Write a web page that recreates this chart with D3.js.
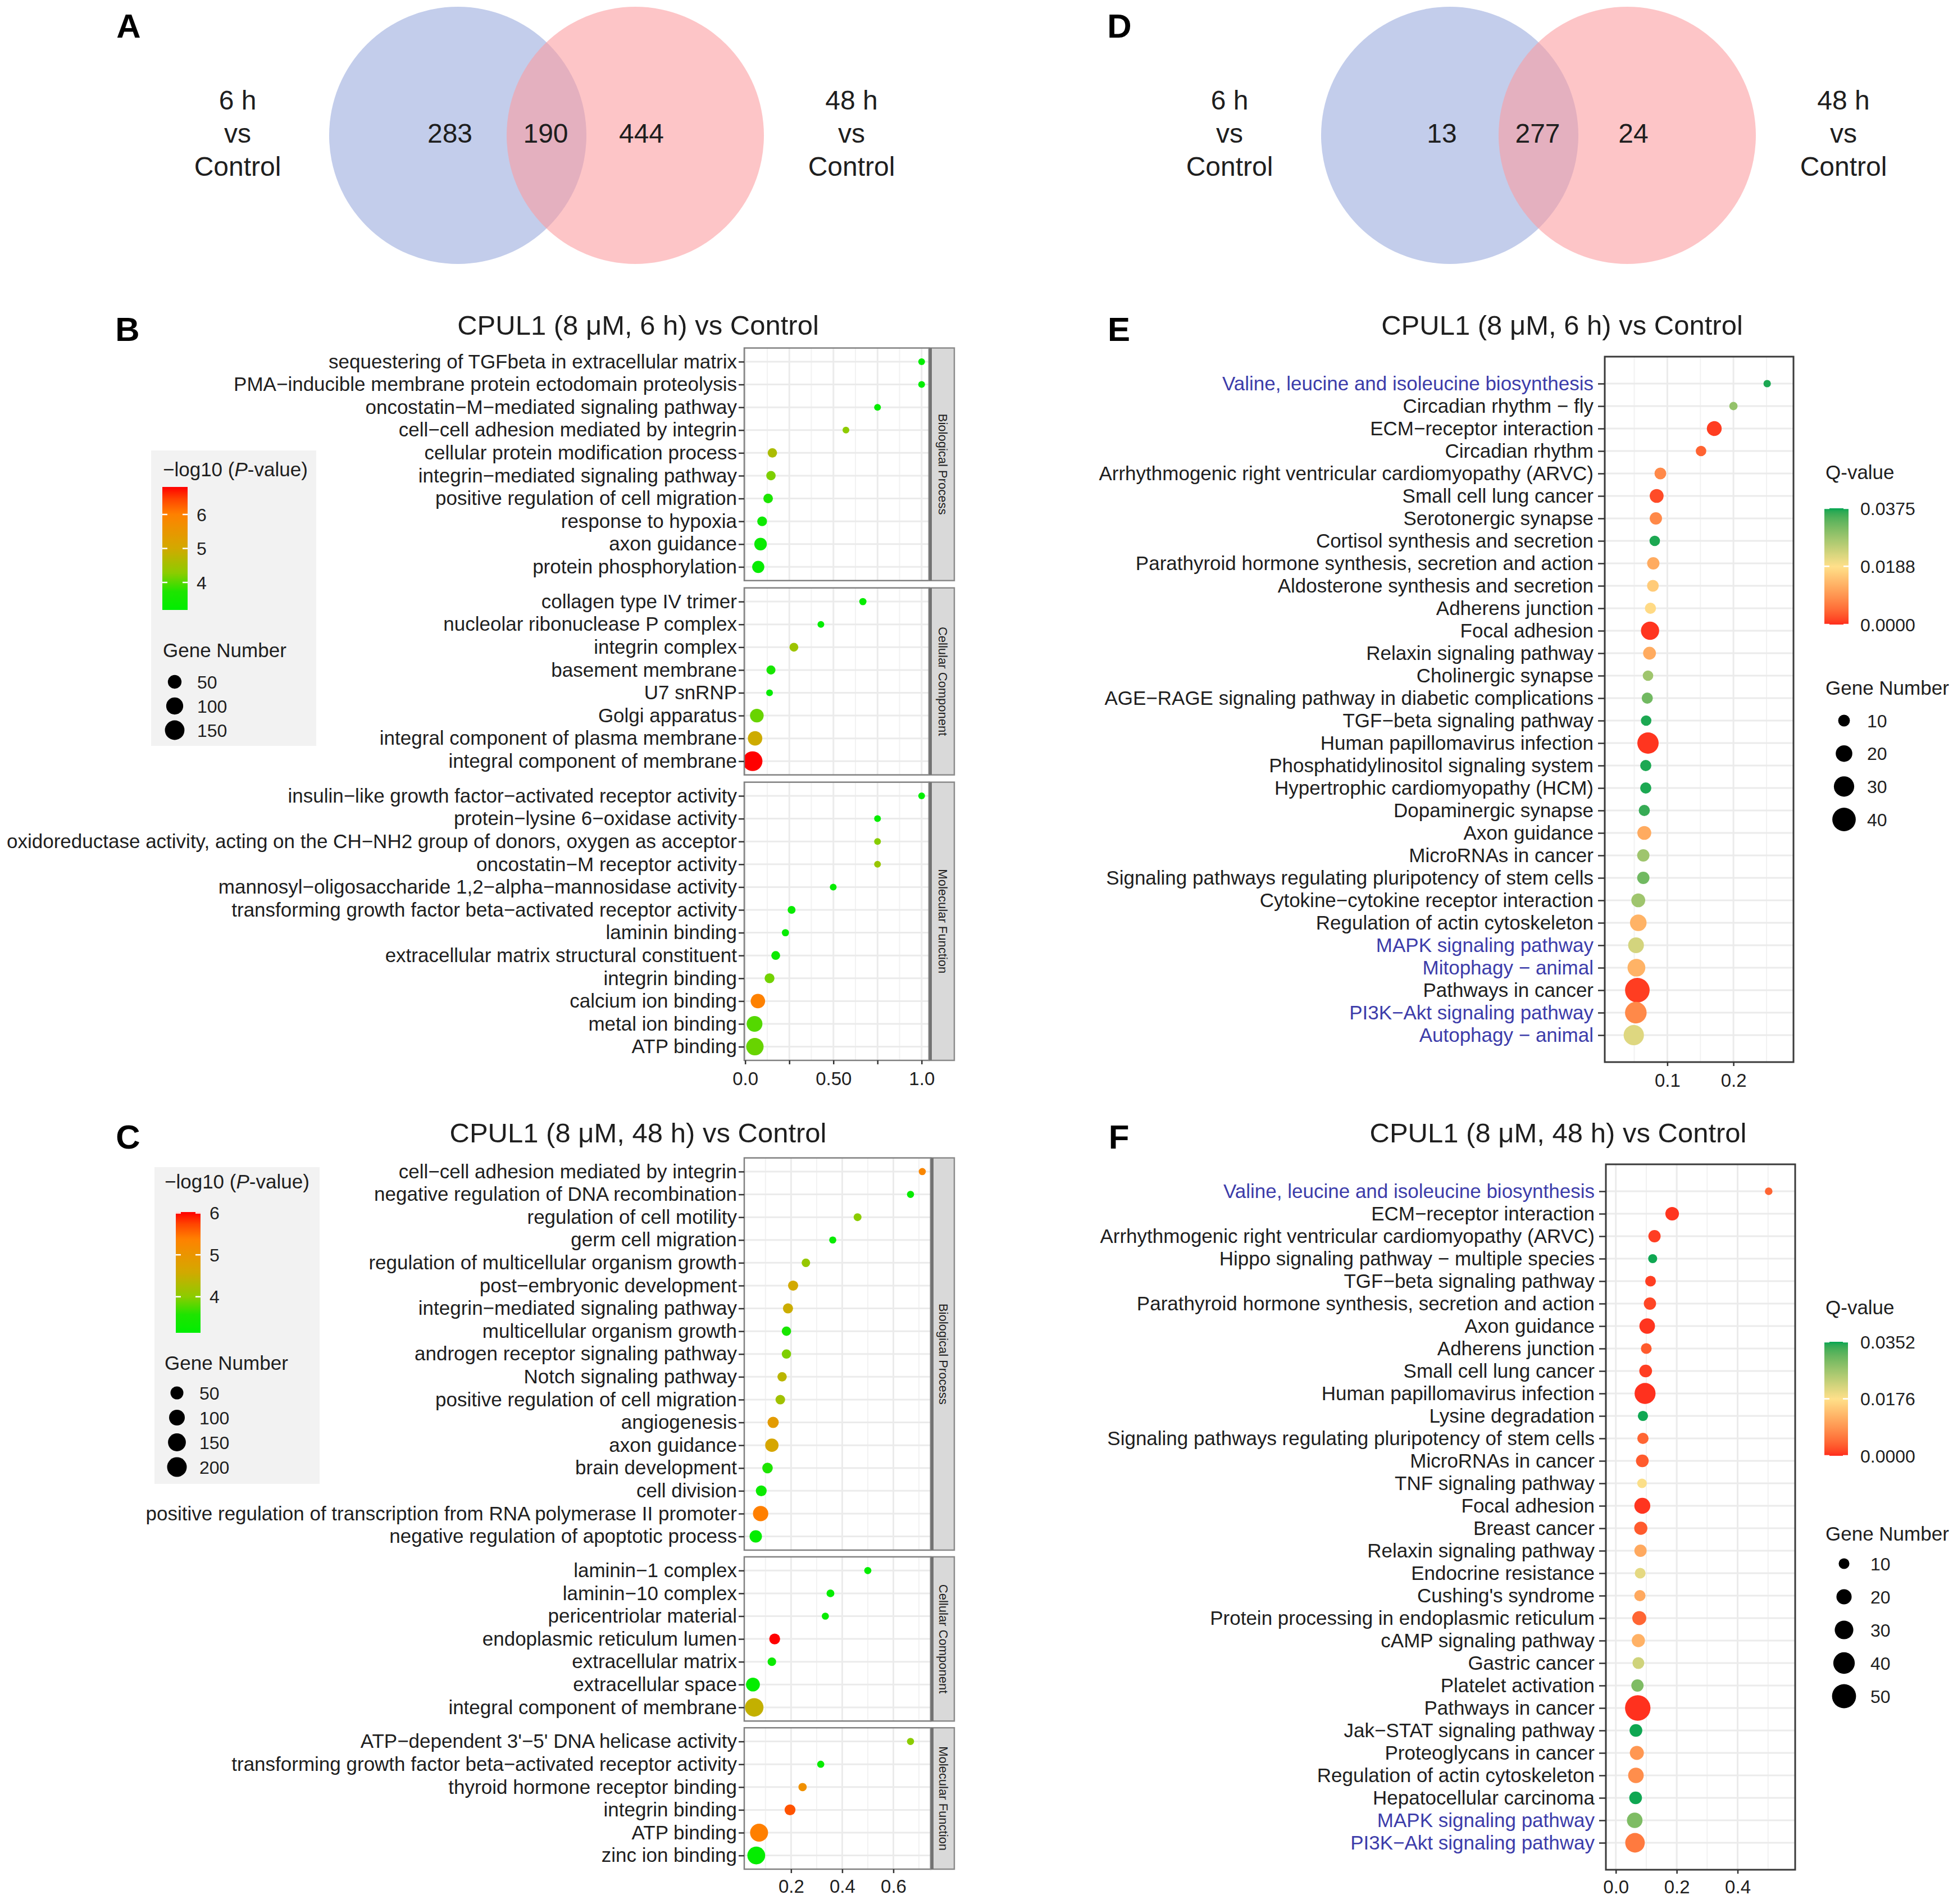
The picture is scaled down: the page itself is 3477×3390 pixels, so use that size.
<!DOCTYPE html>
<html><head><meta charset="utf-8">
<script src="https://cdn.jsdelivr.net/npm/d3@7/dist/d3.min.js"></script>
<style>html,body{margin:0;padding:0;background:#fff}</style>
</head><body>
<svg id="fig" width="3477" height="3390" xmlns="http://www.w3.org/2000/svg"></svg>
<script>
// ================= DATA =================
const vennA = [283, 190, 444];
const vennD = [13, 277, 24];
const vennLeft = ["6 h", "vs", "Control"];
const vennRight = ["48 h", "vs", "Control"];

const title6h = "CPUL1 (8 μM, 6 h) vs Control";
const title48h = "CPUL1 (8 μM, 48 h) vs Control";
const goFacets = ["Biological Process", "Cellular Component", "Molecular Function"];

// ---- Panel B (GO, 6 h) ----
const bBP_terms = ["sequestering of TGFbeta in extracellular matrix","PMA−inducible membrane protein ectodomain proteolysis","oncostatin−M−mediated signaling pathway","cell−cell adhesion mediated by integrin","cellular protein modification process","integrin−mediated signaling pathway","positive regulation of cell migration","response to hypoxia","axon guidance","protein phosphorylation"];
const bBP_ratio = [1.0, 1.0, 0.75, 0.571, 0.154, 0.146, 0.13, 0.096, 0.087, 0.074];
const bBP_count = [1, 1, 1, 1, 11, 11, 12, 13, 37, 33];
const bBP_logp  = [3.25, 3.25, 3.3, 4.3, 4.6, 4.2, 3.7, 3.45, 3.35, 3.3];

const bCC_terms = ["collagen type IV trimer","nucleolar ribonuclease P complex","integrin complex","basement membrane","U7 snRNP","Golgi apparatus","integral component of plasma membrane","integral component of membrane"];
const bCC_ratio = [0.667, 0.429, 0.276, 0.146, 0.138, 0.066, 0.056, 0.042];
const bCC_count = [2, 1, 8, 9, 1, 50, 60, 152];
const bCC_logp  = [3.3, 3.25, 4.45, 3.6, 3.3, 4.1, 4.95, 6.81];

const bMF_terms = ["insulin−like growth factor−activated receptor activity","protein−lysine 6−oxidase activity","oxidoreductase activity, acting on the CH−NH2 group of donors, oxygen as acceptor","oncostatin−M receptor activity","mannosyl−oligosaccharide 1,2−alpha−mannosidase activity","transforming growth factor beta−activated receptor activity","laminin binding","extracellular matrix structural constituent","integrin binding","calcium ion binding","metal ion binding","ATP binding"];
const bMF_ratio = [1.0, 0.75, 0.75, 0.75, 0.499, 0.263, 0.228, 0.173, 0.138, 0.072, 0.053, 0.055];
const bMF_count = [1, 1, 1, 1, 1, 4, 2, 8, 14, 60, 79, 107];
const bMF_logp  = [3.2, 3.3, 4.25, 4.4, 3.3, 3.35, 3.3, 3.4, 4.15, 6.0, 4.0, 4.1];

const bXTicks = [0, 0.25, 0.5, 0.75, 1.0];
const bXTickLabels = ["0.0", "", "0.50", "", "1.0"];
const bPTicks = [4, 5, 6];
const bSizeBreaks = [50, 100, 150];

// ---- Panel C (GO, 48 h) ----
const cBP_terms = ["cell−cell adhesion mediated by integrin","negative regulation of DNA recombination","regulation of cell motility","germ cell migration","regulation of multicellular organism growth","post−embryonic development","integrin−mediated signaling pathway","multicellular organism growth","androgen receptor signaling pathway","Notch signaling pathway","positive regulation of cell migration","angiogenesis","axon guidance","brain development","cell division","positive regulation of transcription from RNA polymerase II promoter","negative regulation of apoptotic process"];
const cBP_ratio = [0.713, 0.667, 0.46, 0.363, 0.258, 0.208, 0.188, 0.182, 0.182, 0.165, 0.158, 0.130, 0.125, 0.108, 0.0835, 0.081, 0.062];
const cBP_count = [1, 1, 3, 1, 6, 17, 17, 11, 11, 11, 13, 28, 56, 21, 24, 92, 42];
const cBP_logp  = [5.27, 3.25, 4.0, 3.25, 4.09, 4.58, 4.52, 3.49, 3.95, 4.38, 4.18, 4.87, 4.64, 3.57, 3.3, 5.39, 3.2];

const cCC_terms = ["laminin−1 complex","laminin−10 complex","pericentriolar material","endoplasmic reticulum lumen","extracellular matrix","extracellular space","integral component of membrane"];
const cCC_ratio = [0.5, 0.354, 0.334, 0.136, 0.125, 0.051, 0.056];
const cCC_count = [1, 3, 1, 24, 6, 65, 168];
const cCC_logp  = [3.2, 3.2, 3.25, 6.02, 3.3, 3.2, 4.46];

const cMF_terms = ["ATP−dependent 3'−5' DNA helicase activity","transforming growth factor beta−activated receptor activity","thyroid hormone receptor binding","integrin binding","ATP binding","zinc ion binding"];
const cMF_ratio = [0.667, 0.316, 0.245, 0.196, 0.075, 0.064];
const cMF_count = [1, 1, 5, 24, 153, 149];
const cMF_logp  = [4.0, 3.25, 5.1, 5.65, 5.39, 3.2];

const cXTicks = [0.2, 0.4, 0.6];
const cXTickLabels = ["0.2", "0.4", "0.6"];
const cPTicks = [4, 5, 6];
const cSizeBreaks = [50, 100, 150, 200];

// ---- Panel E (KEGG, 6 h) ----
const e_terms = ["Valine, leucine and isoleucine biosynthesis","Circadian rhythm − fly","ECM−receptor interaction","Circadian rhythm","Arrhythmogenic right ventricular cardiomyopathy (ARVC)","Small cell lung cancer","Serotonergic synapse","Cortisol synthesis and secretion","Parathyroid hormone synthesis, secretion and action","Aldosterone synthesis and secretion","Adherens junction","Focal adhesion","Relaxin signaling pathway","Cholinergic synapse","AGE−RAGE signaling pathway in diabetic complications","TGF−beta signaling pathway","Human papillomavirus infection","Phosphatidylinositol signaling system","Hypertrophic cardiomyopathy (HCM)","Dopaminergic synapse","Axon guidance","MicroRNAs in cancer","Signaling pathways regulating pluripotency of stem cells","Cytokine−cytokine receptor interaction","Regulation of actin cytoskeleton","MAPK signaling pathway","Mitophagy − animal","Pathways in cancer","PI3K−Akt signaling pathway","Autophagy − animal"];
const e_ratio = [0.251, 0.200, 0.171, 0.151, 0.0895, 0.0839, 0.0827, 0.081, 0.0788, 0.0782, 0.0745, 0.0739, 0.0731, 0.0708, 0.0697, 0.068, 0.0708, 0.0674, 0.0674, 0.0652, 0.0652, 0.0637, 0.0637, 0.0561, 0.0561, 0.0527, 0.0533, 0.0547, 0.0524, 0.0493];
const e_count = [4, 5, 16, 8, 10, 14, 11, 8, 11, 10, 9, 24, 12, 8, 9, 8, 33, 9, 9, 9, 14, 11, 11, 14, 20, 18, 23, 44, 34, 30];
const e_q     = [0.037, 0.029, 0.001, 0.004, 0.008, 0.002, 0.008, 0.037, 0.012, 0.016, 0.018, 0.0005, 0.012, 0.028, 0.032, 0.037, 0.0005, 0.037, 0.037, 0.036, 0.012, 0.028, 0.032, 0.028, 0.013, 0.023, 0.013, 0.001, 0.008, 0.022];
const e_highlight = ["Valine, leucine and isoleucine biosynthesis","MAPK signaling pathway","Mitophagy − animal","PI3K−Akt signaling pathway","Autophagy − animal"];
const eXTicks = [0.1, 0.2];
const eXMinor = [0.05, 0.15, 0.25];
const eQTicks = [0, 0.0188, 0.0375];
const eSizeBreaks = [10, 20, 30, 40];

// ---- Panel F (KEGG, 48 h) ----
const f_terms = ["Valine, leucine and isoleucine biosynthesis","ECM−receptor interaction","Arrhythmogenic right ventricular cardiomyopathy (ARVC)","Hippo signaling pathway − multiple species","TGF−beta signaling pathway","Parathyroid hormone synthesis, secretion and action","Axon guidance","Adherens junction","Small cell lung cancer","Human papillomavirus infection","Lysine degradation","Signaling pathways regulating pluripotency of stem cells","MicroRNAs in cancer","TNF signaling pathway","Focal adhesion","Breast cancer","Relaxin signaling pathway","Endocrine resistance","Cushing's syndrome","Protein processing in endoplasmic reticulum","cAMP signaling pathway","Gastric cancer","Platelet activation","Pathways in cancer","Jak−STAT signaling pathway","Proteoglycans in cancer","Regulation of actin cytoskeleton","Hepatocellular carcinoma","MAPK signaling pathway","PI3K−Akt signaling pathway"];
const f_ratio = [0.502, 0.185, 0.127, 0.121, 0.114, 0.112, 0.103, 0.100, 0.098, 0.096, 0.089, 0.089, 0.087, 0.086, 0.087, 0.082, 0.081, 0.080, 0.079, 0.077, 0.074, 0.074, 0.071, 0.072, 0.066, 0.069, 0.066, 0.065, 0.062, 0.063];
const f_count = [5, 16, 13, 7, 10, 13, 21, 10, 14, 38, 9, 11, 14, 8, 22, 15, 13, 10, 11, 17, 15, 12, 13, 56, 14, 17, 21, 14, 21, 33];
const f_q     = [0.004, 0.0005, 0.001, 0.035, 0.001, 0.0015, 0.0005, 0.003, 0.001, 0.0003, 0.035, 0.004, 0.003, 0.018, 0.0005, 0.003, 0.011, 0.020, 0.011, 0.004, 0.012, 0.022, 0.029, 0.0003, 0.035, 0.009, 0.008, 0.035, 0.029, 0.006];
const f_highlight = ["Valine, leucine and isoleucine biosynthesis","MAPK signaling pathway","PI3K−Akt signaling pathway"];
const fXTicks = [0.0, 0.2, 0.4];
const fXMinor = [0.1, 0.3, 0.5];
const fQTicks = [0, 0.0176, 0.0352];
const fSizeBreaks = [10, 20, 30, 40, 50];

// palettes
const pStops  = [0, 0.15, 0.3, 0.5, 0.64, 0.78, 0.9, 1];
const pColors = ["#00ee00", "#1ee400", "#8ccc00", "#d2a900", "#ea9600", "#ff8000", "#ff4500", "#ff0000"];
const qColors = ["#ff2b1c", "#ffe08a", "#00a651"];

// ================= DRAWING =================
const svg = d3.select("#fig");
const defs = svg.append("defs");
const FONT = "'Liberation Sans', Arial, Helvetica, sans-serif";
const INK = "#1e1e1e";
const BLUE = "#3c3caa";
let uid = 0;

function txt(g, x, y, s, size, o = {}) {
  const t = g.append("text").attr("x", x).attr("y", y).attr("font-size", size)
    .attr("font-family", FONT).attr("fill", o.fill || INK)
    .attr("text-anchor", o.anchor || "start");
  if (o.weight) t.attr("font-weight", o.weight);
  if (o.dy) t.attr("dy", o.dy);
  t.text(s);
  return t;
}

function pScale(dom) {
  return d3.scaleLinear().domain(pStops.map(t => dom[0] + t * (dom[1] - dom[0]))).range(pColors).clamp(true);
}
function qScale(max) {
  return d3.scaleLinear().domain([0, max / 2, max]).range(qColors).interpolate(d3.interpolateLab).clamp(true);
}

// ---- Venn ----
function drawVenn(counts, dx) {
  const g = svg.append("g").attr("transform", `translate(${dx},0)`);
  const cy = 241, r = 229;
  const cx = d3.scaleLinear().domain([0, 1]).range([815, 1131]);
  g.append("circle").attr("cx", cx(0)).attr("cy", cy).attr("r", r).attr("fill", "#c3cdeb");
  g.append("circle").attr("cx", cx(1)).attr("cy", cy).attr("r", r).attr("fill", "rgb(252,156,159)").attr("fill-opacity", 0.583);
  const nx = d3.scalePoint().domain(d3.range(counts.length)).range([801, 1142]);
  counts.forEach((c, i) => txt(g, nx(i), 254, String(c), 48, { anchor: "middle" }));
  const ly = d3.scalePoint().domain(d3.range(3)).range([195, 313]);
  vennLeft.forEach((s, i) => txt(g, 423, ly(i), s, 48, { anchor: "middle" }));
  vennRight.forEach((s, i) => txt(g, 1516, ly(i), s, 48, { anchor: "middle" }));
}

// ---- GO faceted dot plot ----
function drawGO(cfg) {
  const g = svg.append("g");
  const x = d3.scaleLinear().domain(cfg.xDomain).range([cfg.left, cfg.right]);
  const color = pScale(cfg.cDomain);
  const size = d3.scaleSqrt().domain(cfg.sDomain).range(cfg.sRange);
  let top = cfg.top, bottom = 0;
  cfg.facets.forEach((f, fi) => {
    const h = (f.terms.length + 0.2) * cfg.step;
    bottom = top + h;
    const y = d3.scalePoint().domain(f.terms).range([top, bottom]).padding(0.6);
    g.append("rect").attr("x", cfg.left).attr("y", top).attr("width", cfg.right - cfg.left).attr("height", h).attr("fill", "#fff");
    cfg.minor.forEach(v => g.append("line").attr("x1", x(v)).attr("x2", x(v)).attr("y1", top).attr("y2", bottom).attr("stroke", "#f2f2f2").attr("stroke-width", 2));
    cfg.ticks.forEach(v => g.append("line").attr("x1", x(v)).attr("x2", x(v)).attr("y1", top).attr("y2", bottom).attr("stroke", "#ebebeb").attr("stroke-width", 3));
    f.terms.forEach(t => g.append("line").attr("x1", cfg.left).attr("x2", cfg.right).attr("y1", y(t)).attr("y2", y(t)).attr("stroke", "#ebebeb").attr("stroke-width", 3));
    const cid = "clip" + (uid++);
    defs.append("clipPath").attr("id", cid).append("rect").attr("x", cfg.left).attr("y", top).attr("width", cfg.right - cfg.left).attr("height", h);
    g.append("g").attr("clip-path", `url(#${cid})`).selectAll("circle").data(d3.range(f.terms.length)).join("circle")
      .attr("cx", i => x(f.ratio[i])).attr("cy", i => y(f.terms[i]))
      .attr("r", i => size(f.count[i]) / 2).attr("fill", i => color(f.logp[i]));
    g.append("rect").attr("x", cfg.left).attr("y", top).attr("width", cfg.right - cfg.left).attr("height", h)
      .attr("fill", "none").attr("stroke", "#808080").attr("stroke-width", 2.5);
    // strip
    g.append("rect").attr("x", cfg.right).attr("y", top).attr("width", cfg.stripW).attr("height", h)
      .attr("fill", "#d9d9d9").attr("stroke", "#8a8a8a").attr("stroke-width", 2.5);
    g.append("rect").attr("x", cfg.right).attr("y", top).attr("width", 5).attr("height", h).attr("fill", "#737373");
    g.append("text").attr("transform", `translate(${cfg.right + cfg.stripW / 2 + 2},${(top + bottom) / 2}) rotate(90)`)
      .attr("text-anchor", "middle").attr("dy", "0.35em").attr("font-size", 22).attr("font-family", FONT).attr("fill", INK)
      .text(cfg.facetNames[fi]);
    // y axis
    const ax = g.append("g").attr("transform", `translate(${cfg.left},0)`).call(d3.axisLeft(y).tickSize(10).tickPadding(3));
    ax.select(".domain").remove();
    ax.attr("font-size", 35).attr("font-family", FONT);
    ax.selectAll("line").attr("stroke", "#333").attr("stroke-width", 2.5);
    ax.selectAll("text").attr("fill", INK);
    top = bottom + cfg.gap;
  });
  const xa = g.append("g").attr("transform", `translate(0,${bottom})`)
    .call(d3.axisBottom(x).tickValues(cfg.ticks).tickFormat((d, i) => cfg.tickLabels[i]).tickSize(7).tickPadding(cfg.xPad));
  xa.select(".domain").remove();
  xa.attr("font-size", 33).attr("font-family", FONT);
  xa.selectAll("line").attr("stroke", "#333").attr("stroke-width", 2.5);
  xa.selectAll("text").attr("fill", INK);
  txt(svg, cfg.titleX, cfg.titleY, cfg.title, 49, { anchor: "middle" });
}

// ---- legend for -log10(P) + gene number (B, C) ----
function drawPLegend(L) {
  const g = svg.append("g");
  g.append("rect").attr("x", L.box[0]).attr("y", L.box[1]).attr("width", L.box[2]).attr("height", L.box[3]).attr("fill", "#f2f2f2");
  const t = g.append("text").attr("x", L.tx).attr("y", L.ty).attr("font-size", 35).attr("font-family", FONT).attr("fill", INK);
  t.append("tspan").text("−log10 (");
  t.append("tspan").attr("font-style", "italic").text("P");
  t.append("tspan").text("-value)");
  const color = pScale(L.cDomain);
  const gid = "grad" + (uid++);
  const grad = defs.append("linearGradient").attr("id", gid).attr("x1", 0).attr("y1", 1).attr("x2", 0).attr("y2", 0);
  d3.range(0, 41).forEach(i => grad.append("stop").attr("offset", i / 40)
    .attr("stop-color", color(L.cDomain[0] + i / 40 * (L.cDomain[1] - L.cDomain[0]))));
  const yb = d3.scaleLinear().domain(L.cDomain).range([L.barBottom, L.barTop]);
  g.append("rect").attr("x", L.barX).attr("y", yb(L.cDomain[1])).attr("width", L.barW).attr("height", yb(L.cDomain[0]) - yb(L.cDomain[1])).attr("fill", `url(#${gid})`);
  L.cTicks.forEach(v => {
    g.append("line").attr("x1", L.barX).attr("x2", L.barX + 9).attr("y1", yb(v)).attr("y2", yb(v)).attr("stroke", "#fff").attr("stroke-width", 2.5);
    g.append("line").attr("x1", L.barX + L.barW - 9).attr("x2", L.barX + L.barW).attr("y1", yb(v)).attr("y2", yb(v)).attr("stroke", "#fff").attr("stroke-width", 2.5);
    txt(g, L.labX, yb(v), String(v), 32, { dy: "0.36em" });
  });
  txt(g, L.tx, L.gy, "Gene Number", 35);
  const size = d3.scaleSqrt().domain(L.sDomain).range(L.sRange);
  const sy = d3.scalePoint().domain(L.sBreaks).range(L.sYRange);
  L.sBreaks.forEach(v => {
    g.append("circle").attr("cx", L.dotX).attr("cy", sy(v)).attr("r", size(v) / 2).attr("fill", "#000");
    txt(g, L.sLabX, sy(v), String(v), 32, { dy: "0.36em" });
  });
}

// ---- KEGG dot plot (E, F) ----
function drawKEGG(cfg) {
  const g = svg.append("g");
  const x = d3.scaleLinear().domain(cfg.xDomain).range([cfg.left, cfg.right]);
  const y = d3.scalePoint().domain(cfg.terms).range([cfg.top, cfg.bottom]).padding(1.2);
  const color = qScale(cfg.qMax);
  const size = d3.scaleSqrt().domain([0, cfg.sMax]).range([0, cfg.dMax]);
  g.append("rect").attr("x", cfg.left).attr("y", cfg.top).attr("width", cfg.right - cfg.left).attr("height", cfg.bottom - cfg.top).attr("fill", "#fff");
  cfg.minor.forEach(v => g.append("line").attr("x1", x(v)).attr("x2", x(v)).attr("y1", cfg.top).attr("y2", cfg.bottom).attr("stroke", "#f2f2f2").attr("stroke-width", 2));
  cfg.ticks.forEach(v => g.append("line").attr("x1", x(v)).attr("x2", x(v)).attr("y1", cfg.top).attr("y2", cfg.bottom).attr("stroke", "#ebebeb").attr("stroke-width", 3));
  cfg.terms.forEach(t => g.append("line").attr("x1", cfg.left).attr("x2", cfg.right).attr("y1", y(t)).attr("y2", y(t)).attr("stroke", "#ebebeb").attr("stroke-width", 3));
  g.append("g").selectAll("circle").data(d3.range(cfg.terms.length)).join("circle")
    .attr("cx", i => x(cfg.ratio[i])).attr("cy", i => y(cfg.terms[i]))
    .attr("r", i => size(cfg.count[i]) / 2).attr("fill", i => color(cfg.q[i]));
  g.append("rect").attr("x", cfg.left).attr("y", cfg.top).attr("width", cfg.right - cfg.left).attr("height", cfg.bottom - cfg.top)
    .attr("fill", "none").attr("stroke", "#3a3a3a").attr("stroke-width", 3);
  const ax = g.append("g").attr("transform", `translate(${cfg.left},0)`).call(d3.axisLeft(y).tickSize(12).tickPadding(8));
  ax.select(".domain").remove();
  ax.attr("font-size", 35).attr("font-family", FONT);
  ax.selectAll("line").attr("stroke", "#333").attr("stroke-width", 2.5);
  ax.selectAll("text").attr("fill", d => cfg.highlight.includes(d) ? BLUE : INK);
  const xa = g.append("g").attr("transform", `translate(0,${cfg.bottom})`)
    .call(d3.axisBottom(x).tickValues(cfg.ticks).tickFormat(d3.format(".1f")).tickSize(7).tickPadding(cfg.xPad));
  xa.select(".domain").remove();
  xa.attr("font-size", 33).attr("font-family", FONT);
  xa.selectAll("line").attr("stroke", "#333").attr("stroke-width", 2.5);
  xa.selectAll("text").attr("fill", INK);
  txt(svg, cfg.titleX, cfg.titleY, cfg.title, 49, { anchor: "middle" });

  // legend
  const L = cfg.legend;
  txt(g, L.x, L.ty, "Q-value", 35);
  const gid = "grad" + (uid++);
  const grad = defs.append("linearGradient").attr("id", gid).attr("x1", 0).attr("y1", 1).attr("x2", 0).attr("y2", 0);
  d3.range(0, 41).forEach(i => grad.append("stop").attr("offset", i / 40).attr("stop-color", color(i / 40 * cfg.qMax)));
  const yb = d3.scaleLinear().domain([0, cfg.qMax]).range([L.barBottom, L.barTop]);
  g.append("rect").attr("x", L.barX).attr("y", yb(cfg.qMax)).attr("width", L.barW).attr("height", yb(0) - yb(cfg.qMax)).attr("fill", `url(#${gid})`);
  cfg.qTicks.forEach(v => {
    g.append("line").attr("x1", L.barX).attr("x2", L.barX + 9).attr("y1", yb(v)).attr("y2", yb(v)).attr("stroke", "#fff").attr("stroke-width", 2.5);
    g.append("line").attr("x1", L.barX + L.barW - 9).attr("x2", L.barX + L.barW).attr("y1", yb(v)).attr("y2", yb(v)).attr("stroke", "#fff").attr("stroke-width", 2.5);
    txt(g, L.labX, yb(v), d3.format(".4f")(v), 32, { dy: "0.36em" });
  });
  txt(g, L.x, L.gy, "Gene Number", 35);
  const sy = d3.scalePoint().domain(cfg.sBreaks).range(L.sYRange);
  cfg.sBreaks.forEach(v => {
    g.append("circle").attr("cx", L.dotX).attr("cy", sy(v)).attr("r", size(v) / 2).attr("fill", "#000");
    txt(g, L.sLabX, sy(v), String(v), 32, { dy: "0.36em" });
  });
}

// ---------- render ----------
drawVenn(vennA, 0);
drawVenn(vennD, 1766);

drawGO({
  facets: [
    { terms: bBP_terms, ratio: bBP_ratio, count: bBP_count, logp: bBP_logp },
    { terms: bCC_terms, ratio: bCC_ratio, count: bCC_count, logp: bCC_logp },
    { terms: bMF_terms, ratio: bMF_ratio, count: bMF_count, logp: bMF_logp }],
  facetNames: goFacets,
  xDomain: [-0.0054, 1.042], left: 1325, right: 1654, stripW: 45,
  top: 619.6, step: 40.6, gap: 13,
  ticks: bXTicks, tickLabels: bXTickLabels, minor: [0.125, 0.375, 0.625, 0.875], xPad: 14,
  cDomain: [3.19, 6.81], sDomain: [0, 152], sRange: [10, 35],
  title: title6h, titleX: 1136, titleY: 596
});
drawPLegend({
  box: [269, 802, 294, 526], tx: 290, ty: 848, gy: 1170,
  cDomain: [3.19, 6.81], barX: 289, barW: 45, barTop: 867, barBottom: 1086, labX: 350, cTicks: bPTicks,
  sDomain: [0, 152], sRange: [10, 35], sBreaks: bSizeBreaks, sYRange: [1214, 1300], dotX: 311, sLabX: 351
});

drawGO({
  facets: [
    { terms: cBP_terms, ratio: cBP_ratio, count: cBP_count, logp: cBP_logp },
    { terms: cCC_terms, ratio: cCC_ratio, count: cCC_count, logp: cCC_logp },
    { terms: cMF_terms, ratio: cMF_ratio, count: cMF_count, logp: cMF_logp }],
  facetNames: goFacets,
  xDomain: [0.017, 0.746], left: 1325, right: 1657, stripW: 42,
  top: 2061.6, step: 40.6, gap: 12,
  ticks: cXTicks, tickLabels: cXTickLabels, minor: [0.1, 0.3, 0.5, 0.7], xPad: 12,
  cDomain: [3.14, 6.02], sDomain: [0, 200], sRange: [11, 35],
  title: title48h, titleX: 1136, titleY: 2034
});
drawPLegend({
  box: [275, 2078, 294, 564], tx: 293, ty: 2116, gy: 2439,
  cDomain: [3.14, 6.02], barX: 313, barW: 44, barTop: 2158, barBottom: 2373, labX: 373, cTicks: cPTicks,
  sDomain: [0, 200], sRange: [11, 35], sBreaks: cSizeBreaks, sYRange: [2480, 2612], dotX: 315, sLabX: 355
});

drawKEGG({
  terms: e_terms, ratio: e_ratio, count: e_count, q: e_q, highlight: e_highlight,
  xDomain: [0.0054, 0.2908], left: 2857, right: 3193, top: 635, bottom: 1891,
  ticks: eXTicks, minor: eXMinor, xPad: 14, qMax: 0.0375, qTicks: eQTicks,
  sMax: 45, dMax: 44.3, sBreaks: eSizeBreaks,
  title: title6h, titleX: 2781, titleY: 596,
  legend: { x: 3250, ty: 853, gy: 1237, barX: 3248, barW: 43, barTop: 905, barBottom: 1112, labX: 3312,
            sYRange: [1283, 1459], dotX: 3283, sLabX: 3324 }
});
drawKEGG({
  terms: f_terms, ratio: f_ratio, count: f_count, q: f_q, highlight: f_highlight,
  xDomain: [-0.0327, 0.589], left: 2859, right: 3196, top: 2073, bottom: 3329,
  ticks: fXTicks, minor: fXMinor, xPad: 12, qMax: 0.0352, qTicks: fQTicks,
  sMax: 56, dMax: 45.3, sBreaks: fSizeBreaks,
  title: title48h, titleX: 2774, titleY: 2034,
  legend: { x: 3250, ty: 2340, gy: 2743, barX: 3248, barW: 42, barTop: 2389, barBottom: 2592, labX: 3312,
            sYRange: [2784, 3020], dotX: 3283, sLabX: 3330 }
});

// panel letters
const letters = [["A", 229, 67], ["B", 227, 607], ["C", 228, 2045], ["D", 1993, 67], ["E", 1992, 607], ["F", 1992, 2045]];
letters.forEach(([s, x, y]) => txt(svg, x, y, s, 60, { anchor: "middle", weight: "bold", fill: "#000" }));
</script>
</body></html>
